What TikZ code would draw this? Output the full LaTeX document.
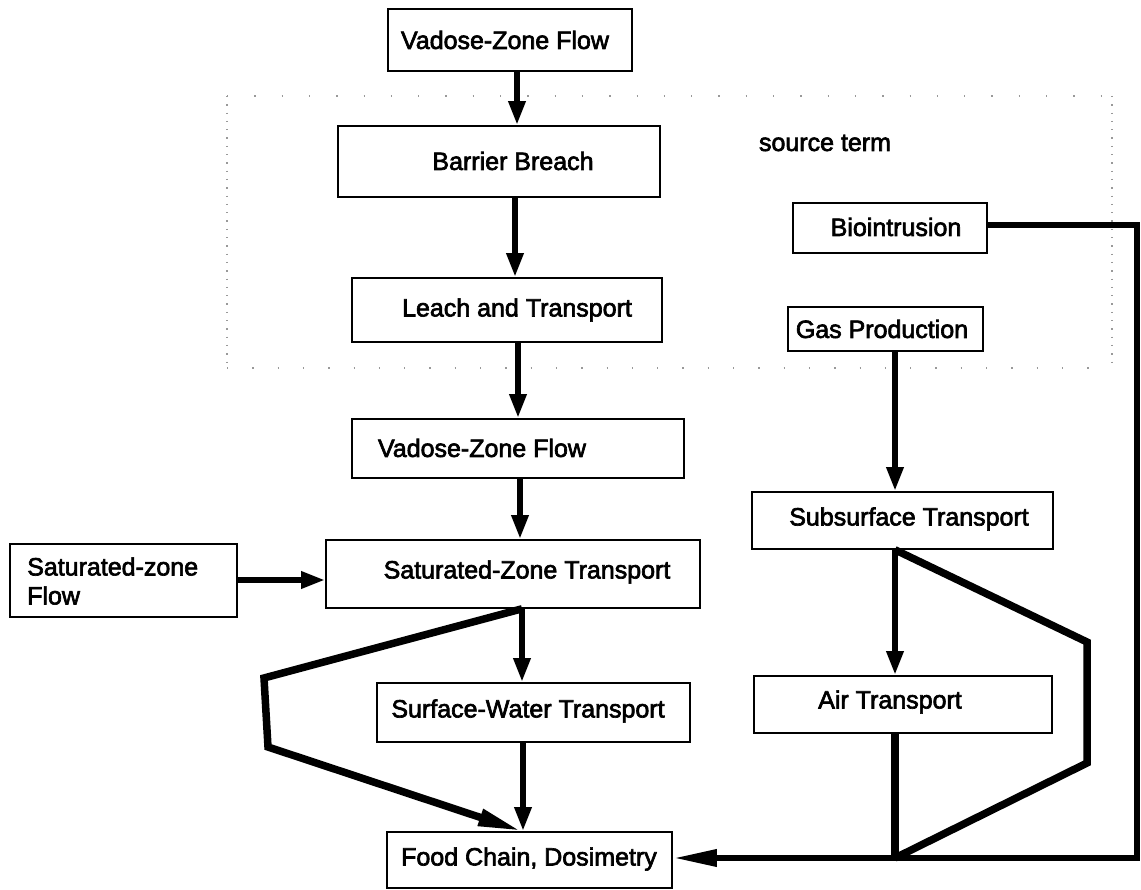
\documentclass[tikz,border=0pt]{standalone}
\usepackage{fontspec}
\setmainfont{Liberation Sans}
\newfontfamily\labelfont{Liberation Sans}[FakeBold=2.6]
\usetikzlibrary{arrows.meta}
\begin{document}
\begin{tikzpicture}[x=1pt,y=-1pt,
  box/.style={draw, line width=1.6pt, inner sep=0pt, rectangle},
  txt/.style={inner sep=0pt, font=\labelfont\fontsize{25}{29}\selectfont},
  flow/.style={line width=6pt, -{Triangle[length=24pt,width=16pt]}},
  thick path/.style={line width=7.5pt, line join=miter},
  long tip/.style={-{Triangle[length=44pt,width=16pt]}},
  dots/.style={gray!80, line width=1.3pt, line cap=butt}
]
\useasboundingbox (0,0) rectangle (1141,890);

% dotted frame of the source-term group
\draw[dots, dash pattern=on 1.3pt off 26pt] (227,96) -- (1112,96);
\draw[dots, dash pattern=on 1.3pt off 24pt] (227,368) -- (1112,368);
\draw[dots, dash pattern=on 1.3pt off 7pt] (227,96) -- (227,368);
\draw[dots, dash pattern=on 1.3pt off 7pt] (1112,96) -- (1112,368);
\node[txt] (src) at (825,143) {source term};

% left chain of boxes
\node[box, minimum width=244pt, minimum height=62pt] (v1) at (510,40) {};
\node[txt] (v1t) at (505,40) {Vadose-Zone Flow};
\node[box, minimum width=322pt, minimum height=71pt] (bb) at (499,161.5) {};
\node[txt] (bbt) at (513,161) {Barrier Breach};
\node[box, minimum width=310pt, minimum height=64pt] (lt) at (507,310) {};
\node[txt] (ltt) at (517,310) {Leach and Transport};
\node[box, minimum width=332pt, minimum height=59pt] (v2) at (518,448.5) {};
\node[txt] (v2t) at (482,448) {Vadose-Zone Flow};
\node[box, minimum width=374pt, minimum height=68pt] (satz) at (513,574) {};
\node[txt] (satzt) at (527,572) {Saturated-Zone Transport};
\node[box, minimum width=227pt, minimum height=73pt] (satf) at (123.5,580.5) {};
\node[txt, anchor=west, align=left] (satft) at (27,581) {Saturated-zone\\Flow};
\node[box, minimum width=313pt, minimum height=59pt] (surf) at (533.5,712.5) {};
\node[txt] (surft) at (528,711) {Surface-Water Transport};
\node[box, minimum width=285pt, minimum height=56pt] (food) at (529.5,860) {};
\node[txt] (foodt) at (529,859) {Food Chain, Dosimetry};

% right chain of boxes
\node[box, minimum width=194pt, minimum height=50pt] (bio) at (890,228) {};
\node[txt] (biot) at (896,227) {Biointrusion};
\node[box, minimum width=195pt, minimum height=44pt] (gas) at (885.5,329) {};
\node[txt] (gast) at (882,329) {Gas Production};
\node[box, minimum width=301pt, minimum height=57pt] (sub) at (902.5,520.5) {};
\node[txt] (subt) at (909,519) {Subsurface Transport};
\node[box, minimum width=298pt, minimum height=57pt] (air) at (903,704.5) {};
\node[txt] (airt) at (890,702) {Air Transport};

% bend points
\coordinate (lb1) at (264,678);
\coordinate (lb2) at (268,747);
\coordinate (rb1) at (1087,642);
\coordinate (rb2) at (1087,763);
\coordinate (rc) at (1137,225);
\coordinate (rd) at (1137,858);
\coordinate (join) at (895,858);

% vertical flows, left column
\draw[flow] (v1.south -| 517,0) -- (bb.north -| 517,0);
\draw[flow] (bb.south -| 515,0) -- (lt.north -| 515,0);
\draw[flow] (lt.south -| 518,0) -- (v2.north -| 518,0);
\draw[flow] (v2.south -| 520,0) -- (satz.north -| 520,0);
\draw[flow] (satz.south -| 522,0) -- (surf.north -| 522,0);
\draw[flow] (surf.south -| 523,0) -- (food.north -| 523,0);
\draw[flow] (satf.east |- 0,580) -- (satz.west |- 0,580);

% bypass from saturated zone to food chain
\draw[thick path, long tip] (satz.south -| 522,0) -- (lb1) -- (lb2) -- (food.north -| 522,0);

% right column
\draw[flow] (gas.south -| 895,0) -- (sub.north -| 895,0);
\draw[flow] (sub.south -| 895,0) -- (air.north -| 895,0);
\draw[thick path] (air.south -| 895,0) -- (join);
\draw[thick path] (sub.south -| 895,0) -- (rb1) -- (rb2) -- (join);
\draw[thick path, line width=6.5pt, long tip] (bio.east |- rc) -- (rc) -- (rd) -- (food.east |- rd);
\end{tikzpicture}
\end{document}
